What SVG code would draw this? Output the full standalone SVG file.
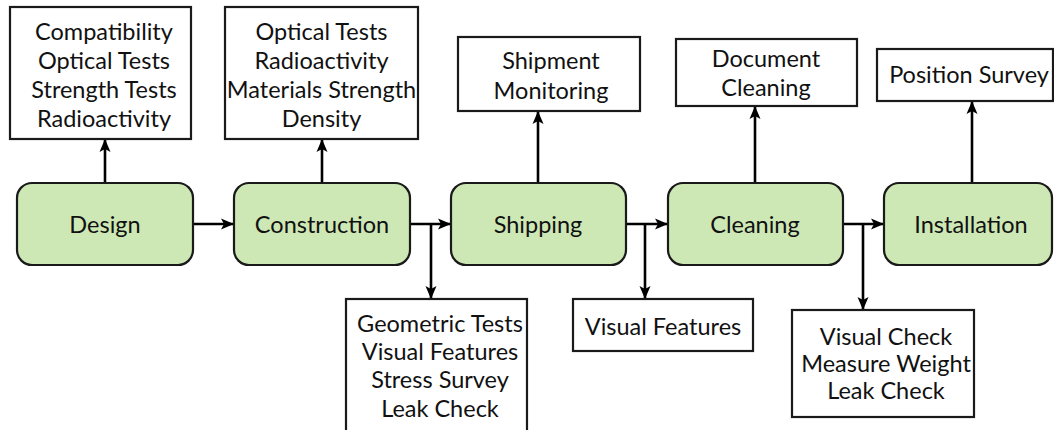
<svg xmlns="http://www.w3.org/2000/svg" width="1054" height="430" viewBox="0 0 1054 430">
<defs>
<style>
.node rect.stage{fill:#cde8b5;stroke:#1a1a1a;stroke-width:2.2}
.box rect{fill:#ffffff;stroke:#1a1a1a;stroke-width:2.2}
text{font-family:"Lato","Noto Sans",sans-serif;font-size:23.5px;fill:#111;text-anchor:middle;dominant-baseline:central}
.conn path{fill:none;stroke:#000;stroke-width:2.6}
</style>
<marker id="ah" viewBox="0 0 13 12" refX="12" refY="6" markerWidth="13" markerHeight="12" markerUnits="userSpaceOnUse" orient="auto">
<path d="M0,0.5 L13,6 L0,11.5 L3,6 Z" fill="#000"/>
</marker>
</defs>
<rect width="1054" height="430" fill="#ffffff"/>

<g id="connectors" class="conn">
<path d="M105,183 V140" marker-end="url(#ah)"/>
<path d="M322,183 V140" marker-end="url(#ah)"/>
<path d="M538,183 V112" marker-end="url(#ah)"/>
<path d="M755,183 V107" marker-end="url(#ah)"/>
<path d="M972,183 V102" marker-end="url(#ah)"/>
<path d="M193,224 H233" marker-end="url(#ah)"/>
<path d="M410,224 H450" marker-end="url(#ah)"/>
<path d="M626,224 H667" marker-end="url(#ah)"/>
<path d="M843,224 H883" marker-end="url(#ah)"/>
<path d="M431,224 V298" marker-end="url(#ah)"/>
<path d="M645,224 V298" marker-end="url(#ah)"/>
<path d="M863,224 V309" marker-end="url(#ah)"/>
</g>

<g id="design" class="node"><rect class="stage" x="17" y="183" width="176" height="82" rx="15"/><text x="105" y="224">Design</text></g>
<g id="construction" class="node"><rect class="stage" x="234" y="183" width="176" height="82" rx="15"/><text x="322" y="224">Construction</text></g>
<g id="shipping" class="node"><rect class="stage" x="451" y="183" width="175" height="82" rx="15"/><text x="538" y="224">Shipping</text></g>
<g id="cleaning" class="node"><rect class="stage" x="668" y="183" width="175" height="82" rx="15"/><text x="755" y="224">Cleaning</text></g>
<g id="installation" class="node"><rect class="stage" x="884" y="183" width="168" height="82" rx="15"/><text x="971" y="224">Installation</text></g>

<g id="design-tests" class="box"><rect x="10" y="7" width="181" height="132"/>
<text x="104" y="31">Compatibility</text><text x="104" y="60">Optical Tests</text><text x="104" y="89">Strength Tests</text><text x="104" y="118">Radioactivity</text></g>
<g id="construction-tests" class="box"><rect x="225" y="7" width="193" height="132"/>
<text x="321.5" y="31">Optical Tests</text><text x="321.5" y="60">Radioactivity</text><text x="321.5" y="89">Materials Strength</text><text x="321.5" y="118">Density</text></g>
<g id="shipment-monitoring" class="box"><rect x="458" y="37" width="182" height="74"/>
<text x="551" y="60">Shipment</text><text x="551" y="90">Monitoring</text></g>
<g id="document-cleaning" class="box"><rect x="676" y="39" width="181" height="67"/>
<text x="766" y="58">Document</text><text x="766" y="87">Cleaning</text></g>
<g id="position-survey" class="box"><rect x="877" y="49" width="176" height="52"/>
<text x="969" y="74">Position Survey</text></g>

<g id="construction-checks" class="box"><rect x="346" y="299" width="181" height="145"/>
<text x="440" y="323">Geometric Tests</text><text x="440" y="351">Visual Features</text><text x="440" y="379">Stress Survey</text><text x="440" y="408">Leak Check</text></g>
<g id="shipping-checks" class="box"><rect x="573" y="299" width="180" height="52"/>
<text x="663" y="326">Visual Features</text></g>
<g id="cleaning-checks" class="box"><rect x="792" y="310" width="182" height="107"/>
<text x="886" y="336">Visual Check</text><text x="886" y="363">Measure Weight</text><text x="886" y="390">Leak Check</text></g>
</svg>
